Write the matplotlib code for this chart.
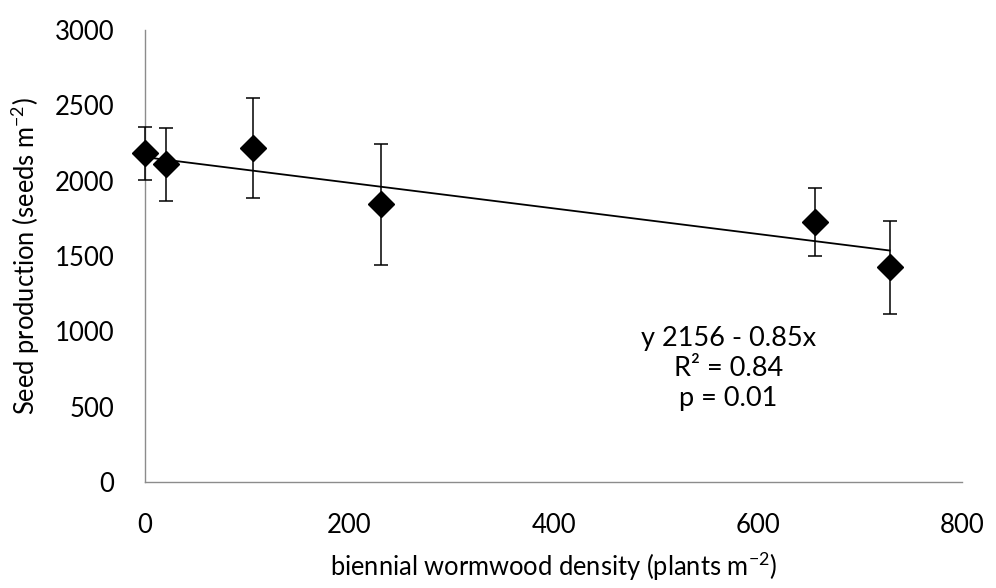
import numpy as np
import matplotlib.pyplot as plt

plt.rcParams['font.family'] = ['Lato', 'DejaVu Sans']
plt.rcParams['mathtext.default'] = 'regular'

# plant density (plants m-2) and seed production (seeds m-2) with error
density = [0, 21, 106, 231, 656, 729]
seeds = [2181, 2108, 2218, 1843, 1727, 1425]
seeds_err = [175, 240, 330, 400, 225, 308]

# fitted regression
intercept = 2156
slope = -0.85

fig = plt.figure(figsize=(9.96, 5.88), dpi=100)
ax = fig.add_axes([0.1456, 0.1803, 0.8204, 0.7687])

xfit = np.array([min(density), max(density)])
ax.plot(xfit, intercept + slope * xfit, color='black', lw=1.3, zorder=2)
eb = ax.errorbar(density, seeds, yerr=seeds_err, fmt='D', color='black',
                 ms=13.5, elinewidth=1.1, capsize=5, capthick=1.1, zorder=3)
for art in eb.lines[0:1] + tuple(eb.lines[1]) + tuple(eb.lines[2]):
    art.set_clip_on(False)

ax.set_xlim(0, 800)
ax.set_ylim(0, 3000)
ax.set_xticks(np.arange(0, 801, 200))
ax.set_yticks(np.arange(0, 3001, 500))
ax.tick_params(length=0, labelsize=18.5, pad=22)

for s in ['top', 'right']:
    ax.spines[s].set_visible(False)
for s in ['left', 'bottom']:
    ax.spines[s].set_color('#8c8c8c')
    ax.spines[s].set_linewidth(1.0)

ax.set_xlabel('biennial wormwood density (plants m$^{-2}$)', fontsize=18.4, labelpad=9)
ax.set_ylabel('Seed production (seeds m$^{-2}$)', fontsize=18.4, labelpad=9)

ax.text(571, 756, 'y 2156 - 0.85x\nR² = 0.84\np = 0.01', fontsize=19.5,
        ha='center', va='center', linespacing=1.25)

fig.savefig('out.png', dpi=100)
